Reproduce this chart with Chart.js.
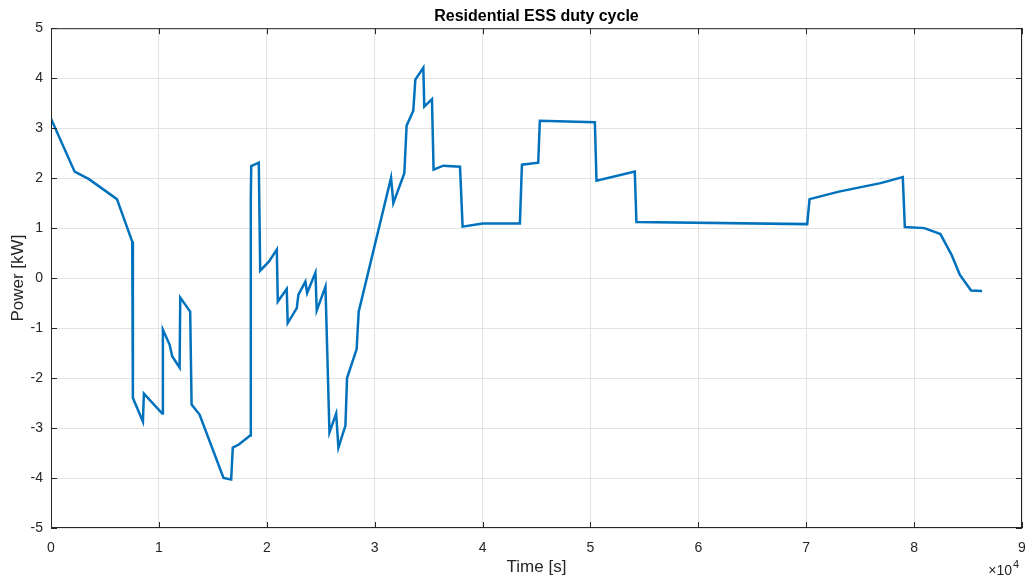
<!DOCTYPE html>
<html>
<head>
<meta charset="utf-8">
<script src="https://cdn.jsdelivr.net/npm/chart.js@4"></script>
<style>
  html, body { margin: 0; padding: 0; background: #fff; }
  #wrap { width: 1027px; height: 579px; }
</style>
</head>
<body>
<div id="wrap"><canvas id="essChart"></canvas></div>
<script>
// duty cycle samples: time in seconds, power in kW
const timeSec = [
  0, 2190, 3520, 6110, 7530, 7590, 8520, 8610, 10310, 10370,
  10990, 11240, 11920, 11980, 12900, 13030, 13770, 15990, 16700, 16850,
  17410, 18460, 18520, 18560, 19260, 19390, 20190, 20930, 21020, 21850,
  21940, 22780, 22930, 23580, 23740, 24510, 24630, 25440, 25810, 26430,
  26640, 27290, 27440, 28330, 28520, 31520, 31730, 32750, 32960, 33580,
  33770, 34510, 34600, 35310, 35460, 36360, 37910, 38150, 40000, 43460,
  43650, 45160, 45310, 50410, 50560, 54110, 54260, 70090, 70310, 73030,
  76890, 78950, 79140, 80960, 82440, 83460, 84230, 85280, 86300
];
const powerKW = [
  3.19, 2.13, 1.98, 1.58, 0.73, -2.4, -2.87, -2.31, -2.71, -1.03,
  -1.33, -1.57, -1.79, -0.39, -0.67, -2.53, -2.73, -4.0, -4.03, -3.39,
  -3.33, -3.15, 1.6, 2.24, 2.31, 0.15, 0.33, 0.57, -0.47, -0.22,
  -0.9, -0.6, -0.33, -0.07, -0.3, 0.11, -0.65, -0.17, -3.09, -2.71,
  -3.39, -2.95, -2.0, -1.42, -0.67, 2.01, 1.5, 2.1, 3.05, 3.35,
  3.97, 4.21, 3.43, 3.58, 2.17, 2.25, 2.23, 1.03, 1.09, 1.09,
  2.27, 2.31, 3.15, 3.12, 1.95, 2.13, 1.12, 1.08, 1.58, 1.73,
  1.9, 2.02, 1.02, 1.0, 0.88, 0.47, 0.07, -0.25, -0.26
];
const xTickValues = [0, 1, 2, 3, 4, 5, 6, 7, 8, 9];
const yTickValues = [-5, -4, -3, -2, -1, 0, 1, 2, 3, 4, 5];

const axisColor = "#262626";
const gridColor = "#e3e3e3";
const fontFamily = "'Liberation Sans', Arial, Helvetica, sans-serif";

// box around the axes plus inward tick marks on all four sides
const boxTicks = {
  id: "boxTicks",
  afterDatasetsDraw(chart) {
    const { ctx, chartArea: a, scales } = chart;
    ctx.save();
    ctx.strokeStyle = axisColor;
    ctx.lineWidth = 1;
    ctx.strokeRect(a.left + 0.5, a.top + 0.5, a.right - a.left - 1, a.bottom - a.top - 1);
    ctx.beginPath();
    xTickValues.forEach((v) => {
      const px = Math.round(scales.x.getPixelForValue(v * 1e4)) + 0.5;
      ctx.moveTo(px, a.bottom); ctx.lineTo(px, a.bottom - 6);
      ctx.moveTo(px, a.top); ctx.lineTo(px, a.top + 6);
    });
    yTickValues.forEach((v) => {
      const py = Math.round(scales.y.getPixelForValue(v)) + 0.5;
      ctx.moveTo(a.left, py); ctx.lineTo(a.left + 6, py);
      ctx.moveTo(a.right, py); ctx.lineTo(a.right - 6, py);
    });
    ctx.stroke();
    // exponent label under the x axis
    ctx.fillStyle = axisColor;
    ctx.font = "14px " + fontFamily;
    ctx.textBaseline = "alphabetic";
    ctx.textAlign = "right";
    ctx.fillText("\u00d710", a.right - 10, 575);
    ctx.font = "11px " + fontFamily;
    ctx.textAlign = "left";
    ctx.fillText("4", a.right - 9, 568);
    ctx.restore();
  },
};

const ctx = document.getElementById("essChart").getContext("2d");
new Chart(ctx, {
  type: "line",
  data: {
    datasets: [
      {
        data: timeSec.map((t, i) => ({ x: t, y: powerKW[i] })),
        borderColor: "#0072BD",
        borderWidth: 2.5,
        pointRadius: 0,
        fill: false,
        tension: 0,
      },
    ],
  },
  plugins: [boxTicks],
  options: {
    responsive: true,
    maintainAspectRatio: false,
    animation: false,
    layout: { padding: { top: 0, right: 5, bottom: 0, left: 0 } },
    plugins: {
      legend: { display: false },
      tooltip: { enabled: false },
      title: {
        display: true,
        fullSize: false,
        text: "Residential ESS duty cycle",
        color: "#000",
        font: { family: fontFamily, size: 16, weight: "bold" },
        padding: { top: 7, bottom: 2 },
      },
    },
    scales: {
      x: {
        type: "linear",
        min: 0,
        max: 90000,
        afterFit: (s) => { s.height = 51; s.paddingRight = 0; s.paddingLeft = 0; },
        afterBuildTicks: (s) => { s.ticks = xTickValues.map((v) => ({ value: v * 1e4 })); },
        grid: { color: gridColor, drawTicks: false },
        border: { display: false },
        ticks: {
          color: axisColor,
          padding: 12,
          maxRotation: 0,
          font: { family: fontFamily, size: 14 },
          callback: (v) => String(v / 1e4),
        },
        title: {
          display: true,
          text: "Time [s]",
          color: axisColor,
          font: { family: fontFamily, size: 17 },
          padding: { top: 0, bottom: 1 },
        },
      },
      y: {
        min: -5,
        max: 5,
        afterFit: (s) => { s.width = 51; s.paddingTop = 0; s.paddingBottom = 0; },
        afterBuildTicks: (s) => { s.ticks = yTickValues.map((v) => ({ value: v })); },
        grid: { color: gridColor, drawTicks: false },
        border: { display: false },
        ticks: {
          color: axisColor,
          padding: 8,
          font: { family: fontFamily, size: 14 },
        },
        title: {
          display: true,
          text: "Power [kW]",
          color: axisColor,
          font: { family: fontFamily, size: 17 },
          padding: { top: 8, bottom: 0 },
        },
      },
    },
  },
});
</script>
</body>
</html>
